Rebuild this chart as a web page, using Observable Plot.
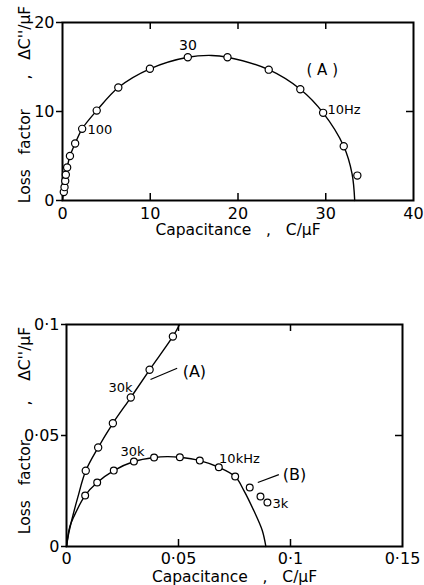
<!DOCTYPE html>
<html><head><meta charset="utf-8">
<script src="https://cdn.jsdelivr.net/npm/d3@7"></script>
<script src="https://cdn.jsdelivr.net/npm/@observablehq/plot@0.6"></script>
<style>
html,body{margin:0;padding:0;background:#fff;}
#top,#bot{position:absolute;left:0;}
#top{top:0;} #bot{top:245px;}
svg{font-family:"DejaVu Sans",sans-serif;}
</style></head><body>
<div id="top"></div><div id="bot"></div>
<script>
// ---------- Panel 1 (top) data ----------
const topCap  = [0.15, 0.23, 0.31, 0.38, 0.53, 0.85, 1.44, 2.24, 3.9, 6.36, 9.96, 14.28, 18.8, 23.5, 27.1, 29.7, 32.05, 33.6];
const topLoss = [0.95, 1.5, 2.2, 2.9, 3.7, 5.0, 6.4, 8.05, 10.1, 12.7, 14.8, 16.1, 16.1, 14.7, 12.5, 9.85, 6.1, 2.8];
const topFitCap  = [0, 0.1, 0.3, 0.53, 0.85, 1.44, 2.24, 3.9, 6.36, 9.96, 14.28, 17.0, 18.8, 23.5, 27.1, 29.7, 32.05, 33.0, 33.3];
const topFitLoss = [0, 1.0, 2.3, 3.7, 5.0, 6.4, 8.05, 10.1, 12.7, 14.8, 16.1, 16.3, 16.1, 14.7, 12.5, 9.85, 6.1, 3.0, 0];
const topXTicks = [0, 10, 20, 30, 40];
const topYTicks = [0, 10, 20];
const topNoteText = ["30", "100", "10Hz", "( A )"];
const topNoteX    = [14.3, 2.84, 30.2, 29.6];
const topNoteY    = [17.4, 7.98, 10.17, 14.64];

// ---------- Panel 2 (bottom) data ----------
const botCapA  = [0.0086, 0.01414, 0.0207, 0.0287, 0.0371, 0.0475];
const botLossA = [0.0341, 0.0446, 0.0555, 0.0671, 0.0796, 0.0946];
const botFitCapA  = [0, 0.001, 0.0025, 0.005, 0.0086, 0.01414, 0.0207, 0.0287, 0.0371, 0.0475, 0.0505];
const botFitLossA = [0, 0.006, 0.0125, 0.022, 0.0341, 0.0446, 0.0555, 0.0671, 0.0796, 0.0946, 0.1];
const botCapB  = [0.00833, 0.0137, 0.0211, 0.0301, 0.0391, 0.0506, 0.0595, 0.068, 0.0753, 0.0818, 0.0866, 0.0897];
const botLossB = [0.023, 0.0288, 0.0342, 0.0383, 0.0401, 0.0402, 0.0387, 0.0357, 0.0315, 0.0266, 0.0225, 0.0198];
const botFitCapB  = [0, 0.0015, 0.0033, 0.00833, 0.0137, 0.0211, 0.0301, 0.0391, 0.045, 0.0506, 0.0595, 0.068, 0.0753, 0.0792, 0.0836, 0.0874, 0.089];
const botFitLossB = [0, 0.009, 0.0135, 0.023, 0.0288, 0.0342, 0.0383, 0.0401, 0.0405, 0.0402, 0.0387, 0.0357, 0.0315, 0.0252, 0.0162, 0.0072, 0];
const botXTicks = [0, 0.05, 0.1, 0.15];
const botXTickLabels = ["0", "0·05", "0·1", "0·15"];
const botYTicks = [0, 0.05, 0.1];
const botYTickLabels = ["0", "0·05", "0·1"];
const botNoteText = ["30k", "(A)", "30k", "10kHz", "(B)", "3k"];
const botNoteX    = [0.0241, 0.0571, 0.0295, 0.0772, 0.1018, 0.0955];
const botNoteY    = [0.0714, 0.0788, 0.0425, 0.0393, 0.0324, 0.0191];
const leadX1 = [0.0375, 0.0854], leadY1 = [0.0752, 0.0288];
const leadX2 = [0.0494, 0.0948], leadY2 = [0.0803, 0.0324];

const xLabel = "Capacitance   ,   C/\u03bcF";
const yLabelTop = "Loss   factor      ,   \u0394C''/\u03bcF";
const yLabelBot = "Loss   factor       ,    \u0394C''/\u03bcF";

const pts = (xs, ys) => xs.map((x, i) => ({x, y: ys[i]}));
const notes = (t, xs, ys) => t.map((s, i) => ({text: s, x: xs[i], y: ys[i]}));

const W = 424;
const baseStyle = {fontFamily: "DejaVu Sans, sans-serif", fontSize: "16px", background: "white", color: "black", overflow: "visible"};

// ---------- Top plot ----------
{
  const H = 245, MT = 22, MB = 45, ML = 62, MR = 11;
  const PH = H - MT - MB, PW = W - ML - MR;
  const innerX = topXTicks.slice(1, -1);
  const innerY = topYTicks.slice(1, -1);
  const n = notes(topNoteText, topNoteX, topNoteY);
  const p = Plot.plot({
    width: W, height: H, marginTop: MT, marginBottom: MB, marginLeft: ML, marginRight: MR,
    style: baseStyle,
    x: {domain: [0, 40]}, y: {domain: [0, 20]},
    marks: [
      Plot.axisX(topXTicks, {anchor: "bottom", tickSize: 0, tickPadding: 7, label: null, fontSize: 16, tickFormat: d => String(d)}),
      Plot.axisY(topYTicks, {anchor: "left", tickSize: 6, tickPadding: 2, label: null, fontSize: 16, strokeWidth: 1.5, tickFormat: d => String(d)}),
      Plot.tickX(innerX, {x: d => d, insetTop: PH - 7, strokeWidth: 1.5}),
      Plot.tickX(innerX, {x: d => d, insetBottom: PH - 7, strokeWidth: 1.5}),
      Plot.tickY(innerY, {y: d => d, insetLeft: PW - 7, strokeWidth: 1.5}),
      Plot.frame({strokeWidth: 2}),
      Plot.line(pts(topFitCap, topFitLoss), {x: "x", y: "y", curve: "catmull-rom", strokeWidth: 1.4}),
      Plot.dot(pts(topCap, topLoss), {x: "x", y: "y", r: 3.6, stroke: "black", fill: "white", strokeWidth: 1.2}),
      Plot.text(n.filter(d => d.text === "30"), {x: "x", y: "y", text: "text", fontSize: 14}),
      Plot.text(n.filter(d => d.text === "100" || d.text === "10Hz"), {x: "x", y: "y", text: "text", fontSize: 13, textAnchor: "start"}),
      Plot.text(n.filter(d => d.text.startsWith("(")), {x: "x", y: "y", text: "text", fontSize: 15}),
      Plot.text([xLabel], {frameAnchor: "bottom", dy: 30, fontSize: 15.5, textAnchor: "middle", lineAnchor: "middle", text: d => d}),
      Plot.text([yLabelTop], {frameAnchor: "left", dx: -37, dy: -7, rotate: -90, fontSize: 15.5, textAnchor: "middle", lineAnchor: "middle", text: d => d})
    ]
  });
  document.getElementById("top").appendChild(p);
}

// ---------- Bottom plot ----------
{
  const H = 340, MT = 79, MB = 39, ML = 66, MR = 22;
  const PH = H - MT - MB, PW = W - ML - MR;
  const innerX = botXTicks.slice(1, -1);
  const innerY = botYTicks.slice(1, -1);
  const n = notes(botNoteText, botNoteX, botNoteY);
  const leads = leadX1.map((x1, i) => ({x1, y1: leadY1[i], x2: leadX2[i], y2: leadY2[i]}));
  const p = Plot.plot({
    width: W, height: H, marginTop: MT, marginBottom: MB, marginLeft: ML, marginRight: MR,
    style: baseStyle,
    x: {domain: [0, 0.15]}, y: {domain: [0, 0.1]},
    marks: [
      Plot.axisX(botXTicks, {anchor: "bottom", tickSize: 0, tickPadding: 6, label: null, fontSize: 16, tickFormat: d => botXTickLabels[botXTicks.indexOf(d)]}),
      Plot.axisY(botYTicks, {anchor: "left", tickSize: 5, tickPadding: 2, label: null, fontSize: 16, strokeWidth: 1.5, tickFormat: d => botYTickLabels[botYTicks.indexOf(d)]}),
      Plot.tickX(innerX, {x: d => d, insetTop: PH - 7, strokeWidth: 1.5}),
      Plot.tickX(innerX, {x: d => d, insetBottom: PH - 7, strokeWidth: 1.5}),
      Plot.tickY(innerY, {y: d => d, insetLeft: PW - 7, strokeWidth: 1.5}),
      Plot.frame({strokeWidth: 2}),
      Plot.line(pts(botFitCapA, botFitLossA), {x: "x", y: "y", curve: "catmull-rom", strokeWidth: 1.4}),
      Plot.line(pts(botFitCapB, botFitLossB), {x: "x", y: "y", curve: "catmull-rom", strokeWidth: 1.4}),
      Plot.link(leads, {x1: "x1", y1: "y1", x2: "x2", y2: "y2", strokeWidth: 1.2}),
      Plot.dot(pts(botCapA, botLossA), {x: "x", y: "y", r: 3.6, stroke: "black", fill: "white", strokeWidth: 1.2}),
      Plot.dot(pts(botCapB, botLossB), {x: "x", y: "y", r: 3.4, stroke: "black", fill: "white", strokeWidth: 1.2}),
      Plot.text(n.filter(d => !d.text.startsWith("(") && d.text !== "3k"), {x: "x", y: "y", text: "text", fontSize: 13}),
      Plot.text(n.filter(d => d.text === "3k"), {x: "x", y: "y", text: "text", fontSize: 13}),
      Plot.text(n.filter(d => d.text.startsWith("(")), {x: "x", y: "y", text: "text", fontSize: 16}),
      Plot.text([xLabel], {frameAnchor: "bottom", dy: 31, fontSize: 15.5, textAnchor: "middle", lineAnchor: "middle", text: d => d}),
      Plot.text([yLabelBot], {frameAnchor: "left", dx: -41, dy: -5, rotate: -90, fontSize: 15.5, textAnchor: "middle", lineAnchor: "middle", text: d => d})
    ]
  });
  document.getElementById("bot").appendChild(p);
}
</script></body></html>
